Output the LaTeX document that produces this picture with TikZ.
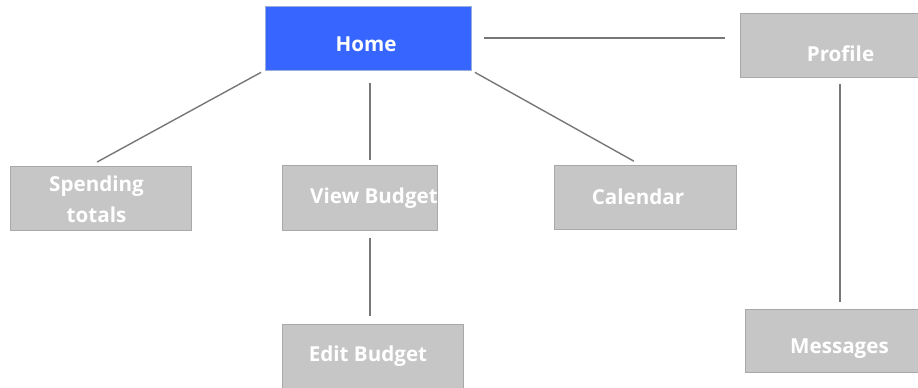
\documentclass[tikz,border=0pt]{standalone}
\usepackage{fontspec}
\setmainfont{Open Sans}
\begin{document}
\begin{tikzpicture}[x=1pt,y=-1pt,
  box/.style={draw=boxline, line width=0.8pt, fill=boxfill, inner sep=0pt},
  homebox/.style={box, draw=homeline, fill=homefill},
  caption/.style={text=white, font=\fontsize{20.6}{31}\selectfont\bfseries,
    align=center, inner sep=0pt, text height=14.8pt, text depth=0pt},
  link/.style={draw=linkgray, line width=1.4pt}]
\definecolor{boxfill}{HTML}{C6C6C6}
\definecolor{boxline}{HTML}{A8A8A8}
\definecolor{homefill}{HTML}{3666FF}
\definecolor{homeline}{HTML}{9AAEDC}
\definecolor{linkgray}{HTML}{777777}
\useasboundingbox (0,0) rectangle (918,388);

% pages of the app, each caption placed inside its box
\node[homebox, minimum width=206pt, minimum height=64pt,
  label={[caption, xshift=-2pt, yshift=-6pt]center:Home}] (home) at (368,38) {};
\node[box, minimum width=178pt, minimum height=64pt,
  label={[caption, xshift=11.5pt, yshift=-9.5pt]center:Profile}] (profile) at (829,45) {};
\node[box, minimum width=181pt, minimum height=64pt,
  label={[caption, xshift=-4pt, yshift=-1pt, text height=, text depth=]center:Spending\\totals}] (spend) at (100.5,198) {};
\node[box, minimum width=155pt, minimum height=65pt,
  label={[caption, xshift=14.5pt, yshift=1pt]center:View Budget}] (view) at (359.5,197.5) {};
\node[box, minimum width=182pt, minimum height=64pt,
  label={[caption, xshift=-7pt]center:Calendar}] (cal) at (645,197) {};
\node[box, minimum width=181pt, minimum height=64pt,
  label={[caption, xshift=-4.5pt, yshift=2pt]center:Edit Budget}] (edit) at (372.5,356) {};
\node[box, minimum width=173pt, minimum height=63pt,
  label={[caption, xshift=8pt, yshift=-5.5pt]center:Messages}] (msg) at (831.5,340.5) {};

% navigation links
\draw[link, shorten <=4pt, shorten >=7.5pt] (home.south west) -- ([xshift=-10pt]spend.north);
\draw[link, shorten <=4pt, shorten >=7pt] (home.south east) -- ([xshift=-5pt]cal.north);
\draw[link, shorten <=13pt, shorten >=5pt] ([xshift=2pt]home.south) -- ([xshift=2pt]home.south |- view.north);
\draw[link, shorten <=13pt, shorten >=15pt] (home.east) -- (home.east -| profile.west);
\draw[link, shorten <=8pt, shorten >=8pt] ([xshift=-2.5pt]edit.north |- view.south) -- ([xshift=-2.5pt]edit.north);
\draw[link, shorten <=7pt, shorten >=7pt] ([xshift=8.5pt]msg.north |- profile.south) -- ([xshift=8.5pt]msg.north);
\end{tikzpicture}
\end{document}
